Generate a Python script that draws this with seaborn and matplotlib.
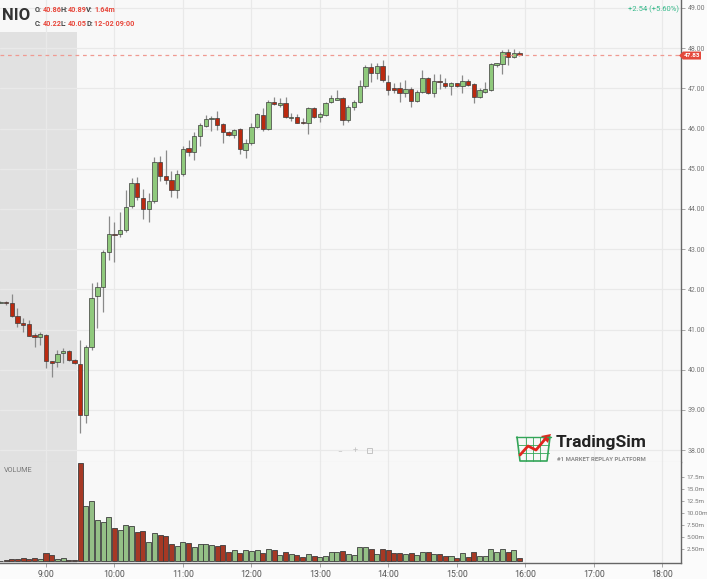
import numpy as np
import pandas as pd
import matplotlib
matplotlib.use("Agg")
import matplotlib.pyplot as plt
import seaborn as sns
from matplotlib.patches import Rectangle, Polygon
from matplotlib.ticker import FixedLocator, FuncFormatter

# ---------------- data ----------------
times = pd.date_range("2020-12-02 08:20", periods=92, freq="5min")

open_ = [41.67, 41.68, 41.65, 41.34, 41.17, 41.15, 40.86, 40.81, 40.86, 40.22, 40.19, 40.42, 40.47, 40.24,
         40.14, 38.88, 40.57, 41.83, 42.07, 42.94, 43.38, 43.37, 43.49, 44.07, 44.64, 44.28, 43.99, 44.21,
         45.16, 44.82, 44.72, 44.47, 44.87, 45.52, 45.41, 45.82, 46.07, 46.23, 46.26, 46.11, 45.92, 45.84,
         45.98, 45.47, 45.63, 46.03, 46.34, 45.98, 46.65, 46.59, 46.63, 46.26, 46.28, 46.17, 46.13, 46.50,
         46.28, 46.34, 46.65, 46.72, 46.75, 46.21, 46.54, 46.67, 47.06, 47.54, 47.38, 47.56, 47.17, 47.00,
         47.00, 46.89, 46.98, 46.69, 46.92, 47.27, 46.88, 47.19, 47.14, 47.06, 47.13, 47.07, 47.19, 47.10,
         46.79, 46.92, 46.96, 47.58, 47.61, 47.91, 47.77, 47.89]
close = [41.68, 41.65, 41.34, 41.17, 41.12, 40.85, 40.81, 40.88, 40.22, 40.17, 40.39, 40.47, 40.24, 40.16,
         38.88, 40.57, 41.78, 42.07, 42.94, 43.38, 43.35, 43.49, 44.06, 44.64, 44.29, 43.99, 44.21, 45.16,
         44.82, 44.72, 44.47, 44.87, 45.49, 45.41, 45.82, 46.09, 46.24, 46.26, 46.09, 45.92, 45.84, 45.97,
         45.49, 45.63, 46.03, 46.36, 45.98, 46.67, 46.61, 46.63, 46.28, 46.30, 46.15, 46.13, 46.50, 46.28,
         46.36, 46.64, 46.75, 46.75, 46.21, 46.53, 46.67, 47.06, 47.54, 47.38, 47.56, 47.21, 46.96, 46.96,
         46.89, 46.98, 46.69, 46.92, 47.25, 46.88, 47.19, 47.15, 47.06, 47.13, 47.07, 47.19, 47.08, 46.79,
         46.96, 46.98, 47.60, 47.62, 47.91, 47.77, 47.89, 47.83]
high = [41.70, 41.72, 41.89, 41.53, 41.28, 41.24, 40.92, 40.95, 40.89, 40.23, 40.49, 40.53, 40.49, 40.27,
        40.74, 40.62, 42.15, 42.19, 42.98, 43.83, 43.68, 43.93, 44.47, 44.76, 44.80, 44.49, 44.39, 45.30,
        45.32, 45.47, 44.95, 44.97, 45.57, 45.72, 45.92, 46.13, 46.34, 46.31, 46.45, 46.13, 45.94, 45.98,
        46.01, 45.73, 46.13, 46.38, 46.51, 46.71, 46.79, 46.75, 46.79, 46.38, 46.36, 46.26, 46.54, 46.53,
        46.42, 46.67, 46.84, 46.96, 46.79, 46.59, 46.71, 47.21, 47.58, 47.62, 47.62, 47.71, 47.33, 47.13,
        47.17, 47.21, 47.04, 46.96, 47.47, 47.29, 47.36, 47.36, 47.25, 47.17, 47.14, 47.33, 47.23, 47.13,
        47.00, 47.17, 47.62, 47.64, 47.96, 47.98, 47.98, 47.93]
low = [41.65, 41.62, 41.32, 41.07, 40.95, 40.84, 40.57, 40.62, 40.05, 39.83, 40.08, 40.18, 40.22, 40.15,
       38.44, 38.68, 40.49, 41.03, 41.45, 42.73, 42.69, 43.30, 43.44, 44.02, 44.22, 43.74, 43.68, 44.14,
       44.70, 44.62, 44.31, 44.27, 44.82, 45.33, 45.22, 45.57, 46.05, 45.94, 45.97, 45.65, 45.82, 45.76,
       45.37, 45.26, 45.59, 46.01, 45.95, 45.97, 46.59, 46.53, 46.26, 46.20, 46.13, 46.11, 45.87, 46.26,
       46.17, 46.31, 46.63, 46.70, 46.09, 46.17, 46.46, 46.63, 47.00, 47.17, 47.23, 47.17, 46.84, 46.88,
       46.67, 46.79, 46.54, 46.67, 46.88, 46.86, 46.78, 46.98, 47.00, 46.84, 47.04, 46.88, 47.06, 46.64,
       46.75, 46.89, 46.94, 47.54, 47.36, 47.58, 47.75, 47.81]
volume_m = [0.10, 0.15, 0.45, 0.45, 0.65, 0.45, 0.55, 0.45, 1.64, 1.30, 0.45, 0.55, 0.25, 0.25,
            20.5, 11.6, 12.5, 8.6, 8.1, 9.3, 7.0, 6.4, 7.5, 7.3, 6.1, 6.3, 3.9, 5.9,
            5.4, 5.2, 3.6, 3.1, 3.9, 3.8, 2.9, 3.6, 3.65, 3.3, 3.1, 3.3, 2.0, 2.25,
            1.7, 2.4, 2.2, 2.3, 1.7, 2.5, 2.25, 1.35, 1.9, 1.5, 1.2, 0.9, 1.5, 1.15,
            0.9, 1.0, 1.9, 1.8, 2.05, 1.55, 1.2, 2.95, 2.95, 2.6, 1.55, 2.6, 2.25, 1.7,
            1.7, 1.55, 1.7, 1.35, 1.9, 1.8, 1.55, 1.5, 1.15, 1.0, 0.6, 1.7, 0.9, 1.9,
            1.15, 1.0, 2.5, 1.9, 2.6, 1.8, 2.4, 0.65]

price_ticks = [38, 39, 40, 41, 42, 43, 44, 45, 46, 47, 48, 49]
vol_ticks = [2.5, 5.0, 7.5, 10.0, 12.5, 15.0, 17.5]
vol_tick_labels = ["2.50m", "5.00m", "7.50m", "10.00m", "12.5m", "15.0m", "17.5m"]
hour_ticks = [9, 10, 11, 12, 13, 14, 15, 16, 17, 18]
hour_labels = ["9:00", "10:00", "11:00", "12:00", "13:00", "14:00", "15:00", "16:00", "17:00", "18:00"]
last_price = 47.83
change_text = "+2.54 (+5.60%)"

# ---------------- styling ----------------
GREEN = "#8fc97c"
RED = "#bb2a10"
EDGE = "#3c3c3c"
WICK = "#8a8a8a"
BG = "#f8f8f8"
GRID = "#e9e9e9"
SHADE = "#e1e1e1"

sns.set_theme(style="white")
plt.rcParams["font.family"] = ["Roboto", "DejaVu Sans"]

df = pd.DataFrame({"t": times, "open": open_, "close": close, "high": high,
                   "low": low, "vol": volume_m})
df["x"] = df["t"].dt.hour * 60 + df["t"].dt.minute
df["dir"] = np.where(df["close"] >= df["open"], "up", "down")

W, H = 707, 579
fig = plt.figure(figsize=(W / 100, H / 100), dpi=100, facecolor="#fbfbfb")

px_per_min = 68.45 / 60.0
x0 = 540 - 46 / px_per_min
x1 = 540 + (681 - 46) / px_per_min

axp = fig.add_axes([0, 1 - 462 / H, 681 / W, 462 / H])
axv = fig.add_axes([0, 1 - 563 / H, 681 / W, 101 / H])

ppu = 40.2
ytop = 49 + 8 / ppu
ybot = 49 - 454 / ppu

for ax in (axp, axv):
    ax.set_facecolor(BG)
    ax.set_xlim(x0, x1)
    for s in ("top", "left"):
        ax.spines[s].set_visible(False)

# premarket shading
shade_end = 9 * 60 + 27.5
y_shade_top = 49 - 24 / ppu
axp.add_patch(Rectangle((x0, ybot), shade_end - x0, y_shade_top - ybot, color=SHADE, zorder=0.5, lw=0))
axv.add_patch(Rectangle((x0, -1), shade_end - x0, 30, color=SHADE, zorder=0.5, lw=0))

# grids
for h in hour_ticks:
    axp.axvline(h * 60, color=GRID, lw=0.9, zorder=0.8)
    axv.axvline(h * 60, color=GRID, lw=0.9, zorder=0.8)
for p in price_ticks:
    axp.axhline(p, color=GRID, lw=0.9, zorder=0.8)

# candles
body_w = 3.8
axp.vlines(df["x"], df["low"], df["high"], color=WICK, lw=0.9, zorder=2)
bottoms = np.minimum(df["open"], df["close"])
heights = np.maximum(np.abs(df["close"] - df["open"]), 0.02)
cols = np.where(df["dir"] == "up", GREEN, RED)
axp.bar(df["x"], heights, bottom=bottoms, width=body_w, color=cols,
        edgecolor=EDGE, linewidth=0.5, zorder=3)

axp.set_ylim(ybot, ytop)
axp.axhline(last_price, color="#f09a92", lw=0.9, ls=(0, (3, 3)), zorder=4)

axp.yaxis.tick_right()
axp.set_yticks(price_ticks)
axp.yaxis.set_major_formatter(FuncFormatter(lambda v, p: f"{v:.2f}"))
axp.tick_params(axis="y", right=True, length=3, width=0.6, color="#999", labelsize=5.0,
                labelcolor="#777", pad=2)
axp.tick_params(axis="x", bottom=False, labelbottom=False)
axp.spines["right"].set_color("#666")
axp.spines["right"].set_linewidth(1.0)
axp.spines["bottom"].set_color("#d8d8d8")
axp.spines["bottom"].set_linewidth(0.8)

# volume bars via seaborn
sns.barplot(data=df, x="x", y="vol", hue="dir", palette={"up": GREEN, "down": RED},
            native_scale=True, width=0.88, dodge=False, legend=False,
            edgecolor=EDGE, linewidth=0.6, ax=axv, zorder=3)
axv.set_xlim(x0, x1)
axv.set_ylim(-0.4, 20.7)
axv.set_xlabel("")
axv.set_ylabel("")
axv.yaxis.tick_right()
axv.yaxis.set_major_locator(FixedLocator(vol_ticks))
axv.set_yticklabels(vol_tick_labels)
axv.tick_params(axis="y", right=True, left=False, length=2.5, width=0.6, color="#999",
                labelsize=4.6, labelcolor="#777", pad=1.5)
axv.xaxis.set_major_locator(FixedLocator([h * 60 for h in hour_ticks]))
axv.set_xticklabels(hour_labels)
axv.tick_params(axis="x", bottom=True, length=3, width=0.6, color="#999", labelsize=6.3,
                labelcolor="#555", pad=2)
axv.spines["right"].set_color("#666")
axv.spines["bottom"].set_color("#666")
axv.spines["right"].set_linewidth(1.0)
axv.spines["bottom"].set_linewidth(1.0)

# ---------------- overlay annotations ----------------
ov = fig.add_axes([0, 0, 1, 1], zorder=10)
ov.set_xlim(0, W)
ov.set_ylim(H, 0)
ov.axis("off")
ov.patch.set_alpha(0)

ov.text(2, 16, "NIO", fontsize=12, fontweight="bold", color="#333", va="center", ha="left")
lab = "#444"
val = "#e8473b"
row1 = [(35, "O:", lab), (42.5, "40.86", val), (60.5, "H:", lab), (68, "40.89", val),
        (86, "V:", lab), (94, "1.64m", val)]
row2 = [(35, "C:", lab), (42.5, "40.22", val), (60.5, "L:", lab), (68, "40.05", val),
        (86.5, "D:", lab), (94, "12-02 09:00", val)]
for (xx, tt, cc) in row1:
    ov.text(xx, 10, tt, fontsize=5.2, fontweight="bold", color=cc, va="center", ha="left")
for (xx, tt, cc) in row2:
    ov.text(xx, 23.5, tt, fontsize=5.2, fontweight="bold", color=cc, va="center", ha="left")

ov.text(679, 9, change_text, fontsize=5.5, color="#35b98a", va="center", ha="right")

# last price tag
ly = 8 + (49 - last_price) * ppu
ov.add_patch(Polygon([[679, ly + 0.5], [683, ly - 3.5], [701, ly - 3.5], [701, ly + 4.5], [683, ly + 4.5]],
                     closed=True, color="#e4483b", lw=0))
ov.text(692, ly + 0.6, f"{last_price:.2f}", fontsize=4.6, color="white", fontweight="bold",
        va="center", ha="center")

ov.text(4, 470, "VOLUME", fontsize=5.2, color="#777", va="center", ha="left")

# zoom controls
ov.text(340, 451, "\u2212", fontsize=6, color="#c4c4c4", va="center", ha="center")
ov.text(355, 451, "+", fontsize=6.5, color="#c4c4c4", va="center", ha="center")
ov.add_patch(Rectangle((367, 448), 5, 5, fill=False, ec="#c4c4c4", lw=0.7))

# TradingSim logo
gcol = "#33a558"
ov.plot([517, 520, 547, 550], [437, 461, 461, 437], color=gcol, lw=1.2)
ov.plot([516, 551], [437, 437], color=gcol, lw=1.0)
for yy in (445, 453):
    ov.plot([518, 549], [yy, yy], color=gcol, lw=0.6)
for xx in (526, 533, 540):
    ov.plot([xx, xx], [437, 461], color=gcol, lw=0.6)
ov.plot([520, 528, 536, 546], [455, 446, 450, 438], color="#e0261f", lw=2.0, solid_capstyle="round")
ov.add_patch(Polygon([[551, 434], [541, 436], [548, 443]], closed=True, color="#e0261f", lw=0))
ov.text(556, 443, "TradingSim", fontsize=12.5, fontweight="bold", color="#222", va="center", ha="left")
ov.text(557, 459.5, "#1 MARKET REPLAY PLATFORM", fontsize=4.3, fontweight="bold", color="#8a8a8a",
        va="center", ha="left")

fig.savefig("out.png", dpi=100, facecolor=fig.get_facecolor())
